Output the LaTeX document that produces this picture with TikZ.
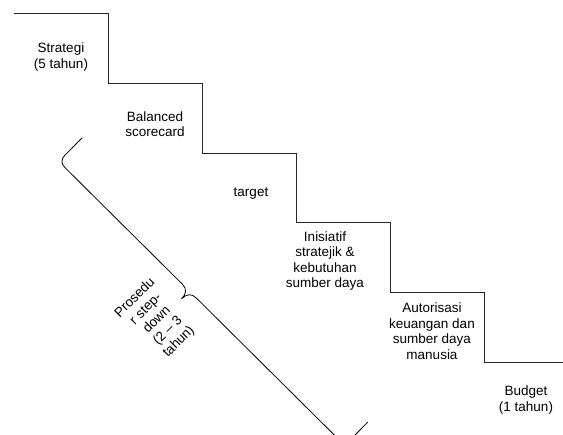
\documentclass[tikz,border=0pt]{standalone}
\usepackage{fontspec}
\setmainfont{Liberation Sans}
\begin{document}
\begin{tikzpicture}[x=1pt,y=-1pt]
\tikzset{
  lbl/.style={font=\fontsize{13.5}{15.5}\selectfont, align=center, inner sep=0pt, text=black},
  stair/.style={draw=black!85, line width=1pt, line join=miter},
  bracepath/.style={draw=black, line width=0.8pt, line join=round},
}
\fill[white] (0,0) rectangle (563,435);
\useasboundingbox (0,0) rectangle (563,435);

% staircase
\draw[stair] (14,14) -- (108,14) -- (108,84) -- (202,84) -- (202,154) -- (296,154)
  -- (296,223) -- (390,223) -- (390,293) -- (484,293) -- (484,363) -- (563,363);

% labels on the steps
\node[lbl] (strategi) at (61,57) {Strategi\\(5 tahun)};
\node[lbl] (bsc) at (155,124) {Balanced\\scorecard};
\node[lbl] (target) at (251,194) {target};
\node[lbl] (inisiatif) at (325,261) {Inisiatif\\stratejik \&\\kebutuhan\\sumber daya};
\node[lbl] (autorisasi) at (432,331) {Autorisasi\\keuangan dan\\sumber daya\\manusia};
\node[lbl] (budget) at (526,400) {Budget\\(1 tahun)};

% brace
\begin{scope}
  \clip (0,0) rectangle (563,435);
  \begin{scope}[shift={(82,138)}, rotate=-44.8]
    \draw[bracepath] (0,0) -- (0,24) .. controls (0,30) and (3,33) .. (9,33)
      -- (174,33) .. controls (181,33) and (184,37) .. (184,44)
      .. controls (184,37) and (187,33) .. (194,33)
      -- (394,33) .. controls (400,33) and (403,30) .. (403,24) -- (403,0);
  \end{scope}
\end{scope}

\node[lbl, rotate=45] (prosedur) at (157,320) {Prosedu\\r step-\\down\\(2 -- 3\\tahun)};
\end{tikzpicture}
\end{document}
